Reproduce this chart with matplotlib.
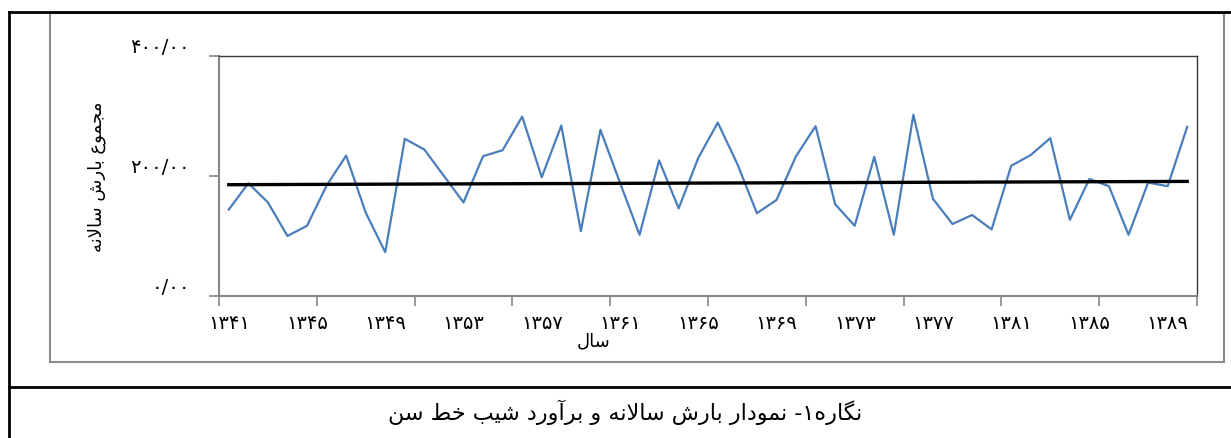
import matplotlib
matplotlib.use('Agg')
import matplotlib.pyplot as plt
from matplotlib.lines import Line2D
from matplotlib.patches import Rectangle

plt.rcParams['font.family'] = ['DejaVu Sans']

# annual precipitation totals, 1341..1390
years = list(range(1341, 1391))
rain = [144, 188, 156, 100, 117, 184, 234, 139, 73, 262,
        244, 200, 156, 233, 243, 299, 198, 284, 108, 277,
        189, 102, 226, 146, 230, 289, 220, 138, 160, 233,
        283, 153, 117, 232, 102, 302, 162, 120, 135, 111,
        217, 235, 263, 127, 195, 183, 102, 189, 183, 282]
# Sen's slope line: values at first and last year
trend_idx = [0, 49]
trend_val = [185.5, 191.0]

ytick_vals = [0, 200, 400]
ytick_text = ['۰/۰۰', '۲۰۰/۰۰', '۴۰۰/۰۰']
ylabel_text = 'مجموع بارش سالانه'
xlabel_text = 'سال'
caption_text = 'نگاره۱- نمودار بارش سالانه و برآورد شیب خط سن'

FA_DIGITS = str.maketrans('0123456789', '۰۱۲۳۴۵۶۷۸۹')

# presentation forms: isolated, final, initial, medial
FORMS = {
    'ا': ('\uFE8D', '\uFE8E', None, None),
    'آ': ('\uFE81', '\uFE82', None, None),
    'ب': ('\uFE8F', '\uFE90', '\uFE91', '\uFE92'),
    'ج': ('\uFE9D', '\uFE9E', '\uFE9F', '\uFEA0'),
    'خ': ('\uFEA5', '\uFEA6', '\uFEA7', '\uFEA8'),
    'د': ('\uFEA9', '\uFEAA', None, None),
    'ر': ('\uFEAD', '\uFEAE', None, None),
    'س': ('\uFEB1', '\uFEB2', '\uFEB3', '\uFEB4'),
    'ش': ('\uFEB5', '\uFEB6', '\uFEB7', '\uFEB8'),
    'ط': ('\uFEC1', '\uFEC2', '\uFEC3', '\uFEC4'),
    'ع': ('\uFEC9', '\uFECA', '\uFECB', '\uFECC'),
    'ل': ('\uFEDD', '\uFEDE', '\uFEDF', '\uFEE0'),
    'م': ('\uFEE1', '\uFEE2', '\uFEE3', '\uFEE4'),
    'ن': ('\uFEE5', '\uFEE6', '\uFEE7', '\uFEE8'),
    'ه': ('\uFEE9', '\uFEEA', '\uFEEB', '\uFEEC'),
    'و': ('\uFEED', '\uFEEE', None, None),
    'ی': ('\uFBFC', '\uFBFD', '\uFBFE', '\uFBFF'),
    'گ': ('\uFB92', '\uFB93', '\uFB94', '\uFB95'),
}


def dual(c):
    return c in FORMS and FORMS[c][2] is not None


def shape(text):
    # very small arabic shaper + rtl reversal, matplotlib has no shaping
    out = []
    i = 0
    n = len(text)
    while i < n:
        c = text[i]
        if c not in FORMS:
            out.append(c)
            i += 1
            continue
        link_prev = i > 0 and dual(text[i - 1])
        if c == 'ل' and i + 1 < n and text[i + 1] == 'ا':
            out.append('\uFEFC' if link_prev else '\uFEFB')
            i += 2
            continue
        link_next = dual(c) and i + 1 < n and text[i + 1] in FORMS
        iso, fin, ini, med = FORMS[c]
        if link_prev and link_next:
            out.append(med)
        elif link_prev:
            out.append(fin)
        elif link_next:
            out.append(ini)
        else:
            out.append(iso)
        i += 1
    return ''.join(reversed(out))


W, H = 1231, 439
fig = plt.figure(figsize=(W / 100, H / 100), dpi=100)

# frames around chart and caption
fig.add_artist(Rectangle((50 / W, 1 - 363 / H), 1174 / W, 349 / H,
                         transform=fig.transFigure, fill=False,
                         edgecolor='#8c8c8c', lw=1.5))
for xs, ys in [([9, 1231], [13, 13]), ([9, 1231], [388, 388]), ([9, 9], [13, 439])]:
    fig.add_artist(Line2D([x / W for x in xs], [1 - y / H for y in ys],
                          transform=fig.transFigure, color='black', lw=2))

ax = fig.add_axes([219 / W, 1 - 297 / H, (1197 - 219) / W, (297 - 57) / H])
idx = list(range(len(years)))
ax.plot(idx, rain, color='#4a7ebb', lw=1.6)
ax.plot(trend_idx, trend_val, color='black', lw=2.4)

ax.set_xlim(-0.5, len(years) - 0.5)
ax.set_ylim(0, 400)

label_idx = idx[::4]
ax.set_xticks(label_idx)
ax.set_xticklabels([str(years[i]).translate(FA_DIGITS) for i in label_idx], fontsize=14)
ax.set_xticks([k - 0.5 for k in range(0, len(years) + 1, 5)], minor=True)
ax.tick_params(axis='x', which='major', length=0, pad=12)
ax.tick_params(axis='x', which='minor', length=7, color='#868686', width=1.2)

ax.set_yticks(ytick_vals)
ax.set_yticklabels(ytick_text, fontsize=14)
ax.tick_params(axis='y', length=7, color='#868686', width=1.2, pad=14)
for lab in ax.get_yticklabels():
    lab.set_verticalalignment('bottom')

for s in ['left', 'bottom']:
    ax.spines[s].set_color('#868686')
    ax.spines[s].set_linewidth(1.5)
for s in ['top', 'right']:
    ax.spines[s].set_color('#3a3a3a')
    ax.spines[s].set_linewidth(1.0)

fig.text(97 / W, 1 - 177 / H, shape(ylabel_text), rotation=90,
         ha='center', va='center', fontsize=13)
fig.text(594 / W, 1 - 341 / H, shape(xlabel_text), ha='center', va='center', fontsize=13)
fig.text(625 / W, 1 - 412 / H, shape(caption_text), ha='center', va='center', fontsize=16)

fig.savefig('out.png', dpi=100)
